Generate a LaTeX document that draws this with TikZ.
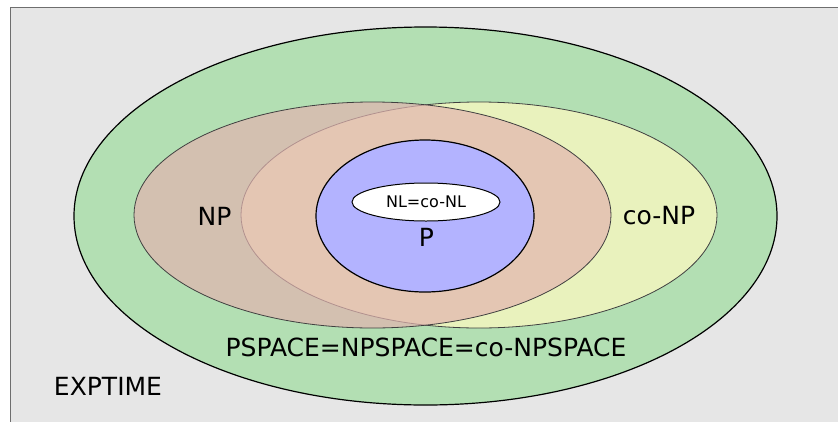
\documentclass[tikz,border=0pt]{standalone}
\usepackage{fontspec}
\setmainfont{DejaVu Sans}
\usetikzlibrary{shapes.geometric}

\definecolor{bgray}{RGB}{230,230,230}
\definecolor{framegray}{RGB}{110,110,110}
\definecolor{spacegreen}{RGB}{179,223,179}
\definecolor{conpyellow}{RGB}{233,242,189}
\definecolor{nprose}{RGB}{226,180,176}
\definecolor{pblue}{RGB}{179,179,255}
\definecolor{rimgray}{RGB}{64,64,64}

\tikzset{
  cls/.style={ellipse, inner sep=0pt, draw},
  lbl/.style={inner sep=0pt, font=\fontsize{25}{30}\selectfont},
}

\begin{document}
\begin{tikzpicture}[x=1pt,y=-1pt]
        \clip (0,0) rectangle (838,421);
        \draw[framegray, fill=bgray, line width=1pt] (10,7) rectangle (860,440);

        % nested classes, largest first
        \draw (425.5,216) node[cls, line width=1.2pt, fill=spacegreen, minimum width=703pt, minimum height=378pt] (exptime) {};
        \draw (479,215) node[cls, draw=rimgray, line width=.8pt, fill=conpyellow, minimum width=476pt, minimum height=226pt] (conp) {};
        \draw (372.5,215) node[cls, draw=rimgray, line width=.8pt, fill=nprose, fill opacity=.7, minimum width=477pt, minimum height=226pt] (np) {};
        \draw (425,216) node[cls, line width=1.2pt, fill=pblue, minimum width=218pt, minimum height=152pt] (p) {};
        \draw (426,202) node[cls, line width=1pt, fill=white, minimum width=148pt, minimum height=38pt, font=\fontsize{16}{19}\selectfont] (nl) {NL=co-NL};

        \node[lbl] (nplabel) at (214.5,216) {NP};
        \node[lbl] (conplabel) at (659,216) {co-NP};
        \node[lbl] (plabel) at (426.5,237) {P};
        \node[lbl] (pspacelabel) at (426,347.5) {PSPACE=NPSPACE=co-NPSPACE};
        \node[lbl] (exptimelabel) at (108,386) {EXPTIME};
    \end{tikzpicture}
\end{document}
